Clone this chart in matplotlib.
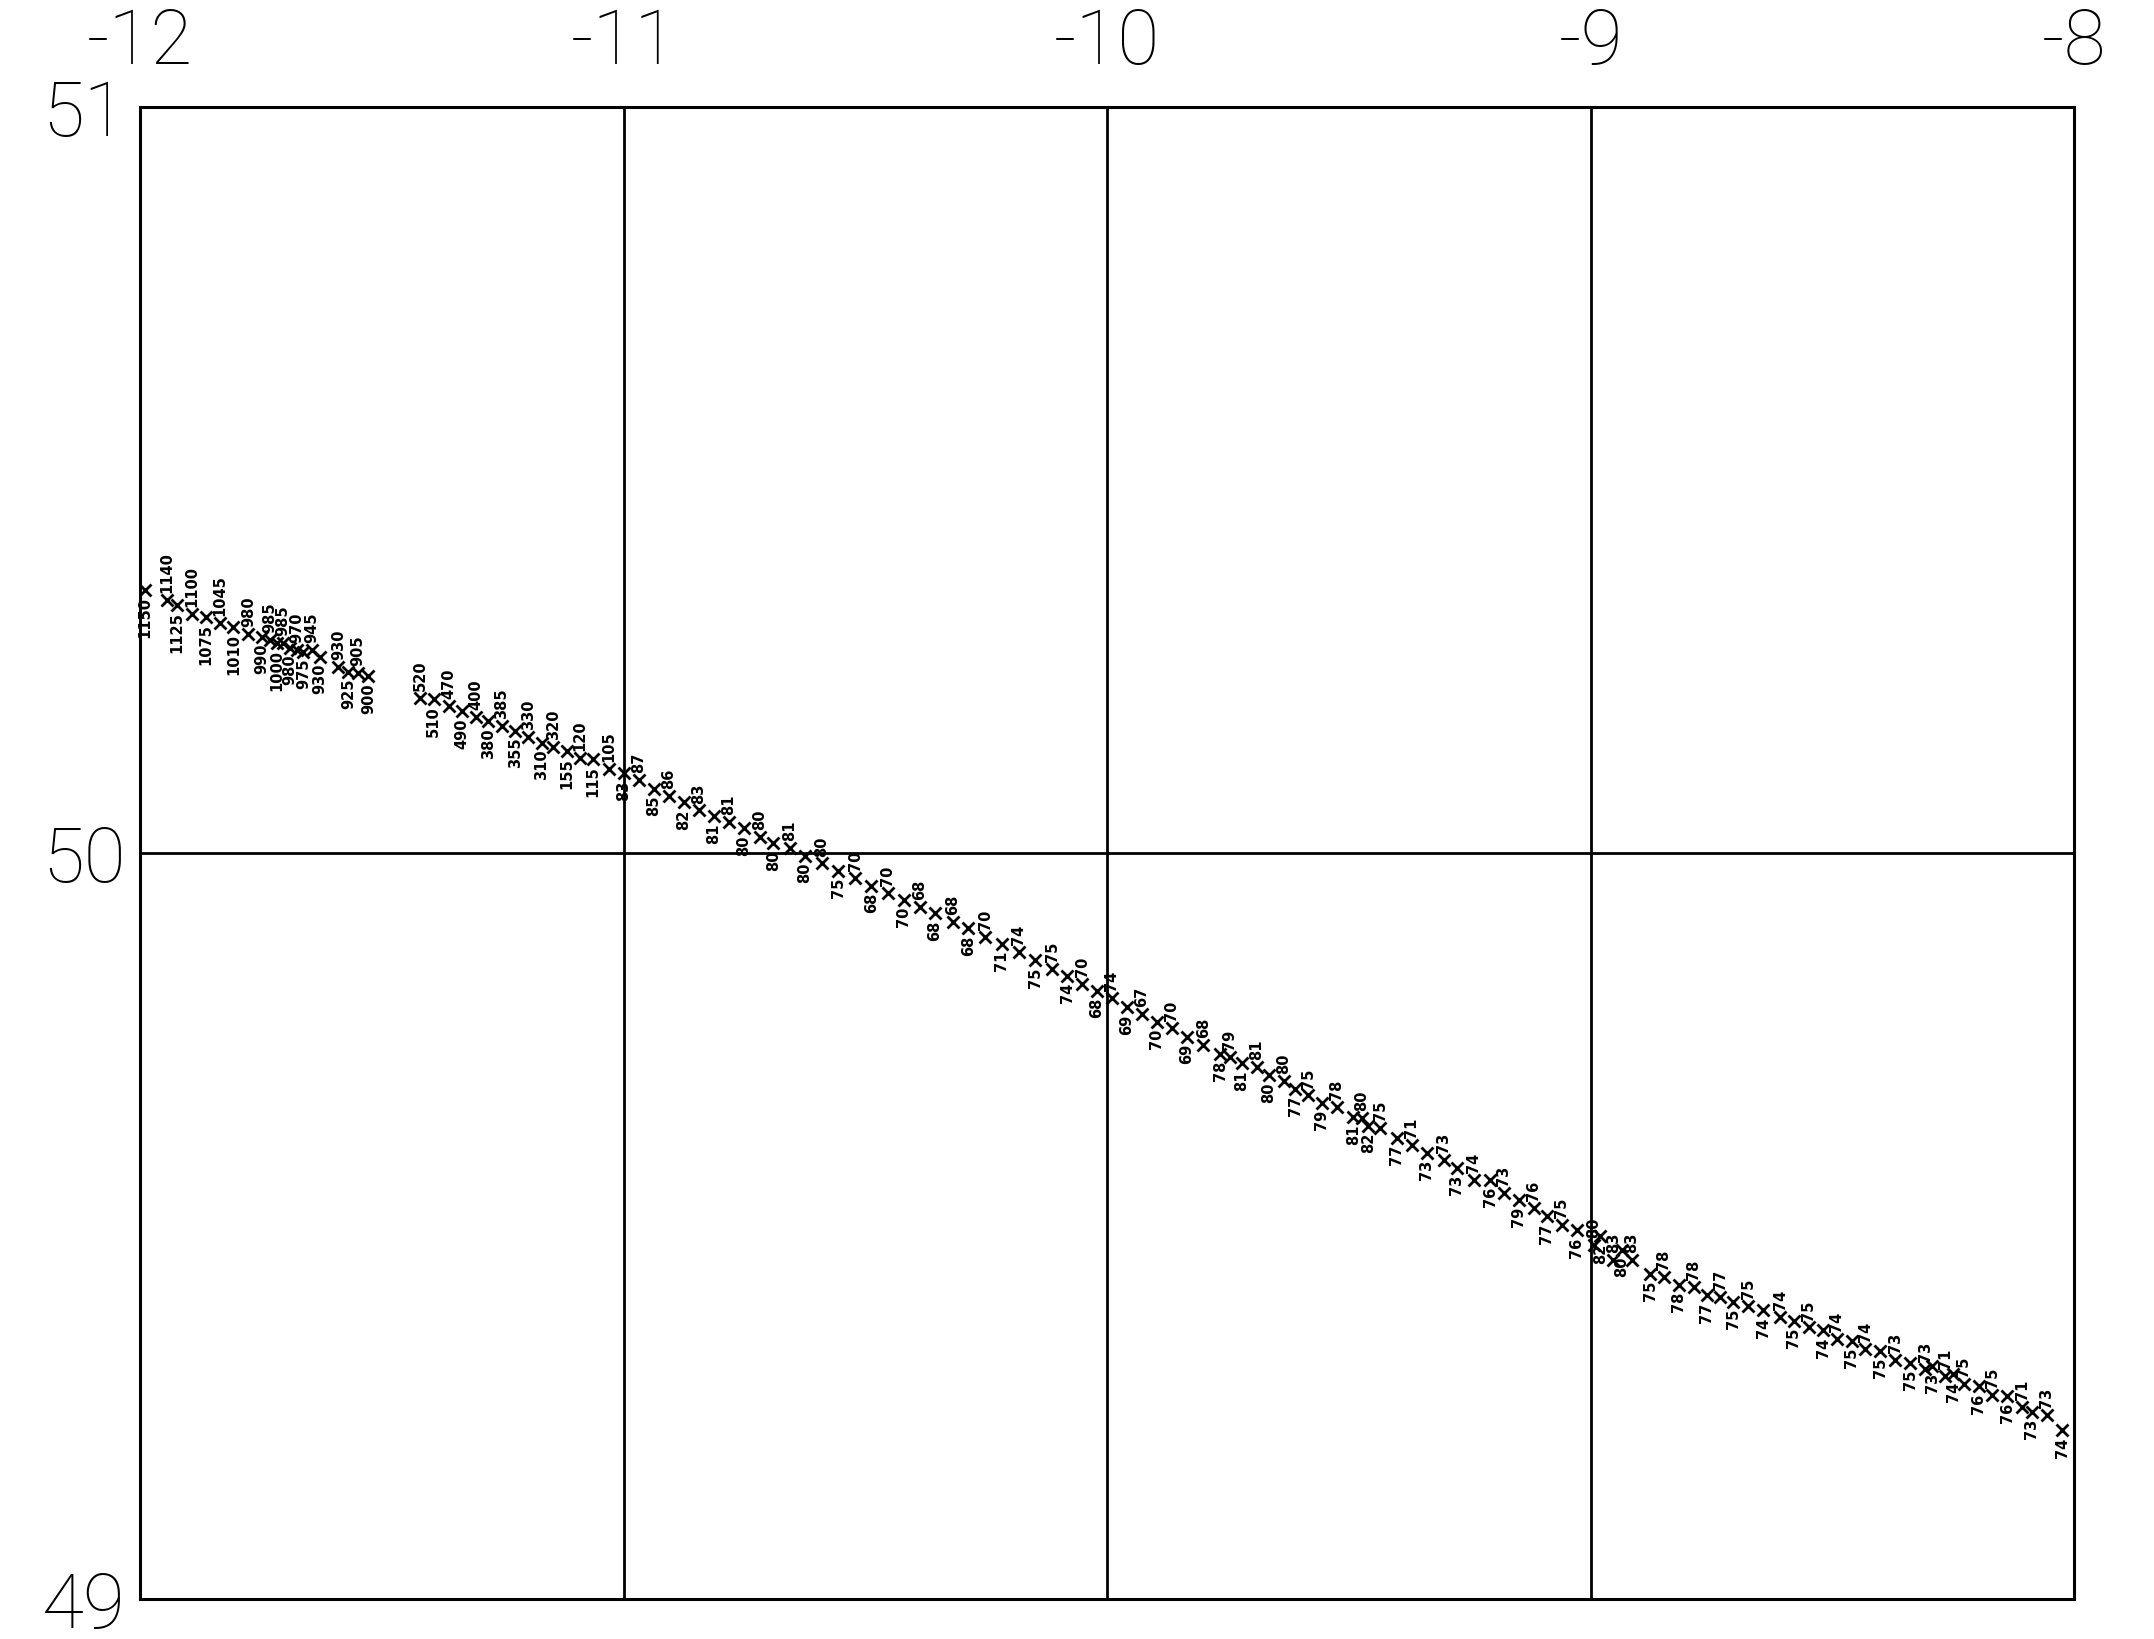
import matplotlib.pyplot as plt

# track soundings: longitude, latitude and depth (m)
lon = [-11.990, -11.945, -11.924, -11.893, -11.863, -11.835, -11.807, -11.776, -11.748, -11.731,
       -11.717, -11.704, -11.690, -11.676, -11.662, -11.645, -11.628, -11.590, -11.569, -11.549,
       -11.528, -11.421, -11.393, -11.362, -11.335, -11.305, -11.280, -11.252, -11.224, -11.197,
       -11.169, -11.145, -11.117, -11.090, -11.064, -11.031, -11.000, -10.969, -10.938, -10.907,
       -10.875, -10.845, -10.814, -10.783, -10.752, -10.718, -10.690, -10.656, -10.625, -10.590,
       -10.556, -10.521, -10.488, -10.454, -10.421, -10.388, -10.356, -10.319, -10.287, -10.252,
       -10.218, -10.183, -10.149, -10.114, -10.083, -10.051, -10.021, -9.990, -9.959, -9.928,
       -9.897, -9.866, -9.835, -9.801, -9.766, -9.746, -9.721, -9.690, -9.666, -9.635,
       -9.611, -9.584, -9.556, -9.525, -9.491, -9.473, -9.460, -9.435, -9.401, -9.370,
       -9.339, -9.304, -9.277, -9.242, -9.208, -9.180, -9.149, -9.118, -9.091, -9.060,
       -9.029, -8.994, -8.980, -8.953, -8.936, -8.915, -8.877, -8.849, -8.818, -8.787,
       -8.760, -8.732, -8.705, -8.674, -8.643, -8.608, -8.580, -8.549, -8.519, -8.491,
       -8.460, -8.432, -8.401, -8.370, -8.339, -8.308, -8.294, -8.267, -8.250, -8.229,
       -8.198, -8.170, -8.139, -8.108, -8.088, -8.057, -8.025]
lat = [50.352, 50.339, 50.332, 50.321, 50.316, 50.308, 50.303, 50.294, 50.290, 50.286,
       50.281, 50.281, 50.275, 50.272, 50.270, 50.272, 50.263, 50.250, 50.243, 50.241,
       50.237, 50.208, 50.206, 50.197, 50.190, 50.182, 50.177, 50.170, 50.164, 50.155,
       50.148, 50.142, 50.137, 50.128, 50.126, 50.113, 50.107, 50.098, 50.086, 50.077,
       50.068, 50.057, 50.049, 50.042, 50.033, 50.022, 50.013, 50.007, 49.996, 49.986,
       49.976, 49.966, 49.956, 49.946, 49.937, 49.928, 49.919, 49.908, 49.899, 49.887,
       49.878, 49.867, 49.856, 49.844, 49.835, 49.825, 49.815, 49.806, 49.793, 49.784,
       49.774, 49.765, 49.754, 49.743, 49.731, 49.727, 49.718, 49.713, 49.702, 49.695,
       49.684, 49.675, 49.665, 49.659, 49.646, 49.645, 49.634, 49.632, 49.618, 49.609,
       49.598, 49.589, 49.578, 49.562, 49.562, 49.544, 49.535, 49.524, 49.513, 49.502,
       49.494, 49.475, 49.486, 49.454, 49.468, 49.455, 49.436, 49.432, 49.421, 49.418,
       49.407, 49.405, 49.398, 49.393, 49.387, 49.378, 49.373, 49.364, 49.360, 49.349,
       49.346, 49.335, 49.333, 49.321, 49.317, 49.308, 49.312, 49.299, 49.301, 49.288,
       49.285, 49.274, 49.272, 49.258, 49.251, 49.247, 49.226]
depth = [1150, 1140, 1125, 1100, 1075, 1045, 1010, 980, 990, 985,
         1000, 985, 980, 970, 975, 945, 930, 930, 925, 905,
         900, 520, 510, 470, 490, 400, 380, 385, 355, 330,
         310, 320, 155, 120, 115, 105, 83, 87, 85, 86,
         82, 83, 81, 81, 80, 80, 80, 81, 80, 80,
         75, 70, 68, 70, 70, 68, 68, 68, 68, 70,
         71, 74, 75, 75, 74, 70, 68, 74, 69, 67,
         70, 70, 69, 68, 78, 79, 81, 81, 80, 80,
         77, 75, 79, 78, 81, 80, 82, 75, 77, 71,
         73, 73, 73, 74, 76, 73, 79, 76, 77, 75,
         76, 80, 82, 83, 80, 83, 75, 78, 78, 78,
         77, 77, 75, 75, 74, 74, 75, 75, 74, 74,
         75, 74, 75, 73, 75, 73, 73, 71, 74, 75,
         76, 75, 76, 71, 73, 73, 74]

x_ticks = [-12, -11, -10, -9, -8]
x_labels = ["-12", "-11", "-10", "-9", "-8"]
y_ticks = [49, 50, 51]
y_labels = ["49", "50", "51"]

plt.rcParams['font.family'] = ['Roboto', 'DejaVu Sans']

fig = plt.figure(figsize=(21.54, 16.39), dpi=100)
ax = fig.add_axes([0.065, 0.0244, 0.898, 0.9103])

ax.plot(lon, lat, linestyle='none', marker='x', color='black',
        markersize=8, markeredgewidth=2)

# depth labels sit alternately below and above their sounding
for i, (x, y, d) in enumerate(zip(lon, lat, depth)):
    if i % 2 == 0:
        ax.annotate(str(d), (x, y), xytext=(0, -5), textcoords='offset points',
                    rotation=90, ha='center', va='top', fontsize=10.5,
                    fontweight='bold', family='DejaVu Sans')
    else:
        ax.annotate(str(d), (x, y), xytext=(0, 5), textcoords='offset points',
                    rotation=90, ha='center', va='bottom', fontsize=10.5,
                    fontweight='bold', family='DejaVu Sans')

ax.set_xlim(-12, -8)
ax.set_ylim(49, 51)
ax.set_xticks(x_ticks)
ax.set_xticklabels(x_labels)
ax.set_yticks(y_ticks)
ax.set_yticklabels(y_labels)
ax.xaxis.tick_top()
ax.tick_params(axis='both', length=0, labelsize=55, colors='black')
ax.tick_params(axis='x', pad=20)
ax.tick_params(axis='y', pad=10)
for lab in ax.get_xticklabels() + ax.get_yticklabels():
    lab.set_fontweight('light')

ax.grid(True, color='black', linewidth=2)
for s in ax.spines.values():
    s.set_linewidth(2.2)
    s.set_color('black')

fig.savefig('out.png', dpi=100)
